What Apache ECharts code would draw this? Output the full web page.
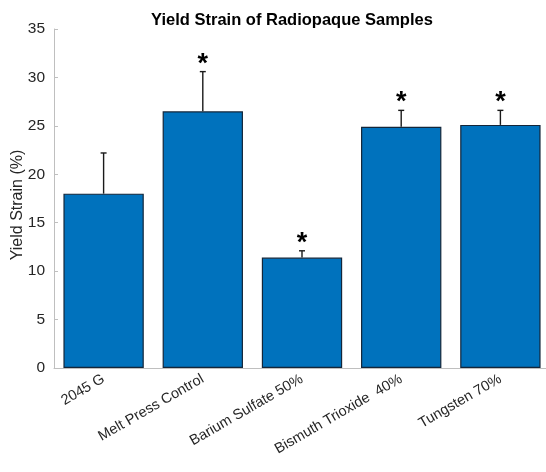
<!DOCTYPE html>
<html>
<head>
<meta charset="utf-8">
<script src="https://cdn.jsdelivr.net/npm/echarts@6/dist/echarts.min.js"></script>
<style>
  html, body { margin: 0; padding: 0; background: #fff; }
  #chart { width: 546px; height: 472px; }
</style>
</head>
<body>
<div id="chart"></div>
<script>
// Sample groups and measured yield strain (%)
const categories = ['2045 G', 'Melt Press Control', 'Barium Sulfate 50%', 'Bismuth Trioxide  40%', 'Tungsten 70%'];
const yieldStrain = [18.0, 26.5, 11.4, 24.9, 25.1];
// Upper error bar extent (standard deviation)
const stdDev = [4.2, 4.1, 0.7, 1.7, 1.5];
// Groups marked as significantly different
const significant = [false, true, true, true, true];
const yTicks = [0, 5, 10, 15, 20, 25, 30, 35];
const yAxisTitle = 'Yield Strain (%)';

const chart = echarts.init(document.getElementById('chart'));
const font = 'Liberation Sans, Helvetica, Arial, sans-serif';
const axisGray = '#bfbfbf';
const textGray = '#262626';

chart.setOption({
  animation: false,
  title: {
    text: 'Yield Strain of Radiopaque Samples',
    left: 287, top: 7, textAlign: 'center',
    textStyle: { fontFamily: font, fontSize: 16.5, fontWeight: 'bold', color: '#000' }
  },
  // vertical axis title, placed beside the tick labels
  graphic: [{
    type: 'text',
    x: 18, y: 205,
    rotation: Math.PI / 2,
    style: {
      text: yAxisTitle, fontFamily: font, fontSize: 16, fill: textGray,
      align: 'center', verticalAlign: 'middle'
    }
  }],
  grid: {
    left: 54, width: 496, top: 29, height: 339,
    containLabel: false, outerBoundsMode: 'none'
  },
  xAxis: {
    type: 'category',
    data: categories,
    axisLine: { lineStyle: { color: axisGray, width: 1 } },
    axisTick: { inside: true, alignWithLabel: true, length: 4, lineStyle: { color: axisGray } },
    axisLabel: {
      rotate: 30, margin: 10, interval: 0,
      fontFamily: font, fontSize: 14.5, color: textGray
    }
  },
  yAxis: {
    type: 'value',
    min: yTicks[0], max: yTicks[yTicks.length - 1], interval: 5,
    axisLine: { show: true, lineStyle: { color: axisGray, width: 1 } },
    axisTick: { show: true, inside: true, length: 4, lineStyle: { color: axisGray } },
    axisLabel: { fontFamily: font, fontSize: 15.5, color: textGray, margin: 9 },
    splitLine: { show: false }
  },
  series: [
    {
      type: 'bar',
      data: yieldStrain,
      barWidth: '81%',
      itemStyle: { color: '#0072BD', borderColor: '#13263a', borderWidth: 1.2 },
      z: 2
    },
    {
      type: 'custom',
      data: yieldStrain.map((v, i) => [i, v, stdDev[i], significant[i] ? 1 : 0]),
      z: 3,
      renderItem: function (params, api) {
        const i = api.value(0);
        const base = api.coord([i, api.value(1)]);
        const top = api.coord([i, api.value(1) + api.value(2)]);
        const cap = 3;
        const style = { stroke: '#1a1a1a', lineWidth: 1.4 };
        const children = [
          { type: 'line', shape: { x1: base[0], y1: base[1], x2: top[0], y2: top[1] }, style: style },
          { type: 'line', shape: { x1: top[0] - cap, y1: top[1], x2: top[0] + cap, y2: top[1] }, style: style }
        ];
        if (api.value(3)) {
          children.push({
            type: 'text',
            x: top[0], y: top[1] + 6,
            style: {
              text: '*', fontFamily: font, fontSize: 27, fontWeight: 'bold',
              fill: '#000', align: 'center', verticalAlign: 'bottom'
            }
          });
        }
        return { type: 'group', children: children };
      }
    }
  ]
});
</script>
</body>
</html>
